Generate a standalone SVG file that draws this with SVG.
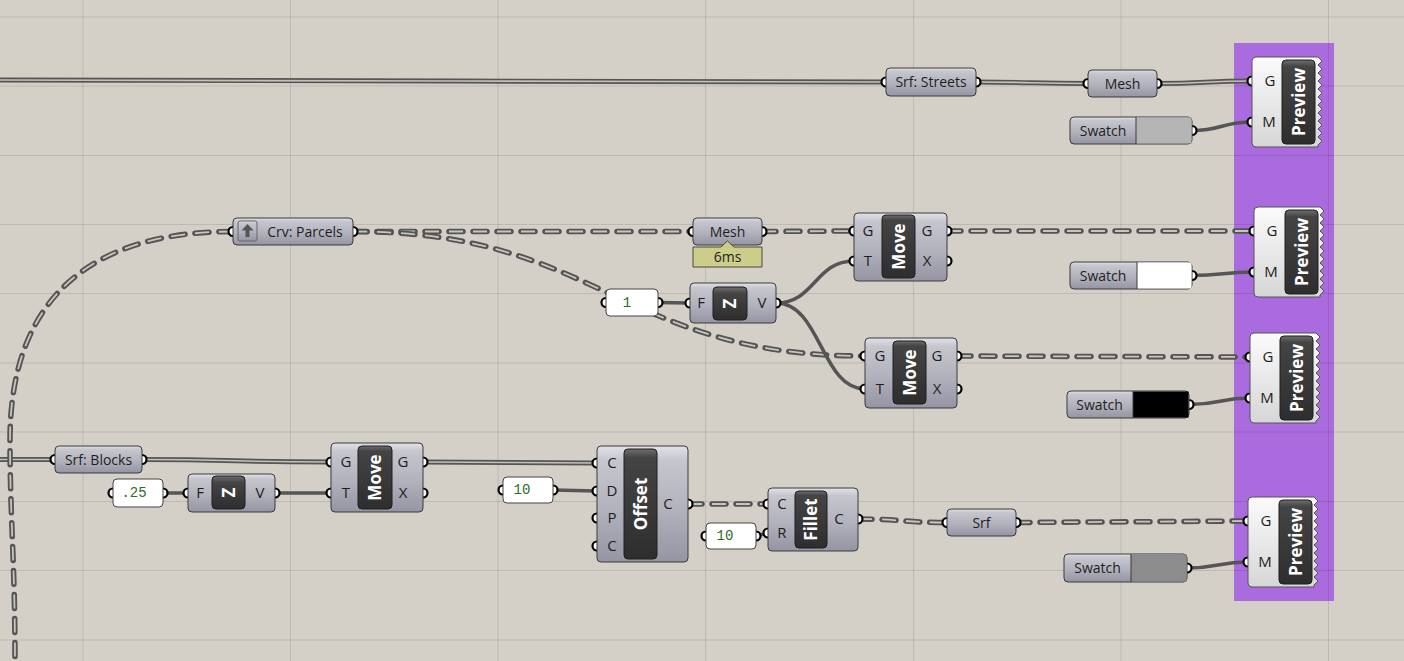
<svg xmlns="http://www.w3.org/2000/svg" width="1404" height="661" viewBox="0 0 1404 661">
<defs>
<linearGradient id="gBody" x1="0" y1="0" x2="0" y2="1">
<stop offset="0" stop-color="#e2e2e8"/><stop offset="0.12" stop-color="#c6c6ce"/><stop offset="0.55" stop-color="#b2b2bd"/><stop offset="1" stop-color="#9494a3"/>
</linearGradient>
<linearGradient id="gBlk" x1="0" y1="0" x2="0" y2="1">
<stop offset="0" stop-color="#6e6e6e"/><stop offset="0.08" stop-color="#444"/><stop offset="1" stop-color="#2e2e2e"/>
</linearGradient>
<linearGradient id="gBlkS" x1="0" y1="0" x2="0" y2="1">
<stop offset="0" stop-color="#6e6e6e"/><stop offset="0.2" stop-color="#444"/><stop offset="1" stop-color="#2e2e2e"/>
</linearGradient>
<linearGradient id="gPrev" x1="0" y1="0" x2="0" y2="1">
<stop offset="0" stop-color="#fbfbfb"/><stop offset="1" stop-color="#d6d6d6"/>
</linearGradient>
<path id="prevShape" d="M4,0 H66 L70,4 L66,8 L70,12 L66,16 L70,20 L66,24 L70,28 L66,32 L70,36 L66,40 L70,44 L66,48 L70,52 L66,56 L70,60 L66,64 L70,68 L66,72 L70,76 L66,80 L70,84 L66,88 L66,90 H4 A4,4 0 0 1 0,86 V4 A4,4 0 0 1 4,0 Z"/>
<style>
.body{fill:url(#gBody);stroke:#3a3a3a;stroke-width:1}
.blk{fill:url(#gBlk);stroke:#1e1e1e;stroke-width:1}
.blks{fill:url(#gBlkS);stroke:#1e1e1e;stroke-width:1}
.prev{fill:url(#gPrev);stroke:#555;stroke-width:1}
.port{fill:#fff;stroke:#000;stroke-width:2.2}
.pnl{fill:#fff;stroke:#444;stroke-width:1}
.lbl{font-family:"Open Sans","Noto Sans",sans-serif;font-size:14px;fill:#1e1e1e;text-anchor:middle}
.pl{font-family:"Open Sans","Noto Sans",sans-serif;font-size:15px;fill:#1e1e1e;text-anchor:middle}
.nick{font-family:"Open Sans","Noto Sans",sans-serif;font-size:17px;font-weight:bold;fill:#fff;text-anchor:middle}
.num{font-family:"Liberation Mono",monospace;font-size:14px;fill:#2d6b2d;text-anchor:middle}
.grid{stroke:#000;stroke-opacity:0.1;stroke-width:1}
.wt{fill:none;stroke:#555;stroke-width:5}
.wti{fill:none;stroke:#c4c1ba;stroke-width:1.6}
.wd{fill:none;stroke:#545454;stroke-width:5.5;stroke-linecap:round;stroke-dasharray:14 10}
.wdi{fill:none;stroke:#c8c5be;stroke-width:1.8;stroke-dasharray:14 10}
.ws{fill:none;stroke:#555;stroke-width:3.5}
</style>
</defs>
<rect x="0" y="0" width="1404" height="661" fill="#d4d0c8"/>
<rect x="1234" y="43" width="100" height="558" fill="#aa6bde"/>
<g id="grid">
<line class="grid" x1="83" y1="0" x2="83" y2="661"/>
<line class="grid" x1="290.5" y1="0" x2="290.5" y2="661"/>
<line class="grid" x1="498" y1="0" x2="498" y2="661"/>
<line class="grid" x1="705.5" y1="0" x2="705.5" y2="661"/>
<line class="grid" x1="913.5" y1="0" x2="913.5" y2="661"/>
<line class="grid" x1="1121" y1="0" x2="1121" y2="661"/>
<line class="grid" x1="1328.5" y1="0" x2="1328.5" y2="661"/>
<line class="grid" x1="0" y1="17" x2="1404" y2="17"/>
<line class="grid" x1="0" y1="86" x2="1404" y2="86"/>
<line class="grid" x1="0" y1="155.5" x2="1404" y2="155.5"/>
<line class="grid" x1="0" y1="224.5" x2="1404" y2="224.5"/>
<line class="grid" x1="0" y1="293.5" x2="1404" y2="293.5"/>
<line class="grid" x1="0" y1="363" x2="1404" y2="363"/>
<line class="grid" x1="0" y1="432" x2="1404" y2="432"/>
<line class="grid" x1="0" y1="501.5" x2="1404" y2="501.5"/>
<line class="grid" x1="0" y1="570.5" x2="1404" y2="570.5"/>
<line class="grid" x1="0" y1="640" x2="1404" y2="640"/>
</g>
<g id="connectors">
<path class="wt" d="M0,80 C400,80 500,82 886,82"/>
<path class="wti" d="M0,80 C400,80 500,82 886,82"/>
<path class="wt" d="M976,82 C1032,82 1032,83.5 1088,83.5"/>
<path class="wti" d="M976,82 C1032,82 1032,83.5 1088,83.5"/>
<path class="wt" d="M1157,83.5 C1205,83.5 1205,81 1252,81"/>
<path class="wti" d="M1157,83.5 C1205,83.5 1205,81 1252,81"/>
<path class="wt" d="M0,459.5 L55,459.5"/>
<path class="wti" d="M0,459.5 L55,459.5"/>
<path class="wt" d="M142,459.5 C236,459.5 236,462 331,462"/>
<path class="wti" d="M142,459.5 C236,459.5 236,462 331,462"/>
<path class="wt" d="M423,462 C510,462 510,463 597,463"/>
<path class="wti" d="M423,462 C510,462 510,463 597,463"/>
<path class="wd" d="M233,231.5 C100,231.5 10,290 10,440 C10,520 15,560 15,661"/>
<path class="wdi" d="M233,231.5 C100,231.5 10,290 10,440 C10,520 15,560 15,661"/>
<path class="wd" d="M353,231.5 L693,231.5"/>
<path class="wdi" d="M353,231.5 L693,231.5"/>
<path class="wd" d="M353,231.5 C600,231.5 620,356 865,356"/>
<path class="wdi" d="M353,231.5 C600,231.5 620,356 865,356"/>
<path class="wd" d="M762,231.5 L854,231"/>
<path class="wdi" d="M762,231.5 L854,231"/>
<path class="wd" d="M947,231 L1254,231"/>
<path class="wdi" d="M947,231 L1254,231"/>
<path class="wd" d="M957,356 L1250,357"/>
<path class="wdi" d="M957,356 L1250,357"/>
<path class="wd" d="M688,504 L768,504"/>
<path class="wdi" d="M688,504 L768,504"/>
<path class="wd" d="M858,519 C900,519 905,522.5 947,522.5"/>
<path class="wdi" d="M858,519 C900,519 905,522.5 947,522.5"/>
<path class="wd" d="M1016,522.5 L1248,521"/>
<path class="wdi" d="M1016,522.5 L1248,521"/>
<path class="ws" d="M1192,130.5 C1222,130.5 1222,122 1252,122"/>
<path class="ws" d="M658,302.5 L690,303"/>
<path class="ws" d="M776,303 C815,303 815,261 854,261"/>
<path class="ws" d="M776,303 C821,303 821,389 865,389"/>
<path class="ws" d="M1192,275.5 C1223,275.5 1223,272 1254,272"/>
<path class="ws" d="M1189,404.5 C1220,404.5 1220,398 1250,398"/>
<path class="ws" d="M163,493 L188,493"/>
<path class="ws" d="M275,493 L331,493"/>
<path class="ws" d="M553,490 L597,491"/>
<path class="ws" d="M756,536 L768,533"/>
<path class="ws" d="M1187,568 C1218,568 1218,562 1248,562"/>
</g>
<g id="srf-streets">
<circle class="port" cx="886" cy="82" r="4.5"/><circle class="port" cx="976" cy="82" r="4.5"/>
<rect class="body" x="886" y="68" width="90" height="28" rx="4"/>
<text class="lbl" x="931" y="87">Srf: Streets</text>
</g>
<g id="mesh-top">
<circle class="port" cx="1088" cy="83.5" r="4.5"/><circle class="port" cx="1157" cy="83.5" r="4.5"/>
<rect class="body" x="1088" y="70" width="69" height="27" rx="4"/>
<text class="lbl" x="1122.5" y="88.5">Mesh</text>
</g>
<g id="swatch-1">
<circle class="port" cx="1192" cy="130.5" r="4.5"/>
<rect class="body" x="1070" y="117" width="122" height="27" rx="4"/>
<rect x="1136" y="117.5" width="55.5" height="26" fill="#b4b4b4"/>
<line x1="1136" y1="117" x2="1136" y2="144" stroke="#3a3a3a"/>
<text class="lbl" x="1103" y="135.5">Swatch</text>
</g>
<g id="preview-1">
<circle class="port" cx="1252" cy="81" r="4.5"/><circle class="port" cx="1252" cy="122" r="4.5"/>
<use href="#prevShape" class="prev" x="1252" y="57"/>
<rect class="blk" x="1282" y="60" width="33" height="84" rx="4"/>
<text class="pl" x="1270" y="86">G</text><text class="pl" x="1269" y="127">M</text>
<text class="nick" transform="translate(1298.5,102) rotate(-90)" y="6">Preview</text>
</g>
<g id="crv-parcels">
<circle class="port" cx="233" cy="231.5" r="4.5"/><circle class="port" cx="353" cy="231.5" r="4.5"/>
<rect class="body" x="233" y="218" width="120" height="27" rx="4"/>
<rect x="238" y="221" width="19" height="20" rx="2" fill="url(#gBody)" stroke="#666"/>
<path d="M247.5,224 L241.5,230.5 H245.5 V237 H249.5 V230.5 H253.5 Z" fill="#555"/>
<text class="lbl" x="305" y="236.5">Crv: Parcels</text>
</g>
<g id="mesh-2">
<circle class="port" cx="693" cy="231.5" r="4.5"/><circle class="port" cx="762" cy="231.5" r="4.5"/>
<rect class="body" x="693" y="218" width="69" height="27" rx="4"/>
<text class="lbl" x="727.5" y="236.5">Mesh</text>
<path d="M693,247 H721 L727.5,241 L734,247 H762 V267 H693 Z" fill="#cdcd8a" stroke="#4a4a3a" stroke-width="1"/>
<text class="lbl" x="727.5" y="262">6ms</text>
</g>
<g id="move-1">
<circle class="port" cx="854" cy="231" r="4.5"/><circle class="port" cx="854" cy="261" r="4.5"/>
<circle class="port" cx="947" cy="231" r="4.5"/><circle class="port" cx="947" cy="261" r="4.5"/>
<rect class="body" x="854" y="213" width="93" height="68" rx="4"/>
<rect class="blk" x="882" y="215" width="33" height="63" rx="4"/>
<text class="pl" x="868" y="236">G</text><text class="pl" x="868" y="266">T</text>
<text class="pl" x="927" y="236">G</text><text class="pl" x="927" y="266">X</text>
<text class="nick" transform="translate(898.5,246.5) rotate(-90)" y="6">Move</text>
</g>
<g id="panel-1">
<circle class="port" cx="606" cy="302.5" r="4.5"/><circle class="port" cx="658" cy="302.5" r="4.5"/>
<rect class="pnl" x="606" y="289" width="52" height="27" rx="4"/>
<text class="num" x="627" y="307">1</text>
</g>
<g id="unit-z-1">
<circle class="port" cx="690" cy="303" r="4.5"/><circle class="port" cx="776" cy="303" r="4.5"/>
<rect class="body" x="690" y="283" width="86" height="40" rx="4"/>
<rect class="blks" x="713" y="287" width="34" height="33" rx="4"/>
<text class="pl" x="701" y="308">F</text><text class="pl" x="762" y="308">V</text>
<text class="nick" transform="translate(730,303.5) rotate(-90)" y="6">Z</text>
</g>
<g id="move-2">
<circle class="port" cx="865" cy="356" r="4.5"/><circle class="port" cx="865" cy="389" r="4.5"/>
<circle class="port" cx="957" cy="356" r="4.5"/><circle class="port" cx="957" cy="389" r="4.5"/>
<rect class="body" x="865" y="338" width="92" height="70" rx="4"/>
<rect class="blk" x="893" y="341" width="33" height="63" rx="4"/>
<text class="pl" x="880" y="361">G</text><text class="pl" x="880" y="394">T</text>
<text class="pl" x="937" y="361">G</text><text class="pl" x="937" y="394">X</text>
<text class="nick" transform="translate(909.5,372.5) rotate(-90)" y="6">Move</text>
</g>
<g id="preview-2">
<circle class="port" cx="1254" cy="231" r="4.5"/><circle class="port" cx="1254" cy="272" r="4.5"/>
<use href="#prevShape" class="prev" x="1254" y="207"/>
<rect class="blk" x="1285" y="210" width="33" height="84" rx="4"/>
<text class="pl" x="1272" y="236">G</text><text class="pl" x="1271" y="277">M</text>
<text class="nick" transform="translate(1301.5,252) rotate(-90)" y="6">Preview</text>
</g>
<g id="swatch-2">
<circle class="port" cx="1192" cy="275.5" r="4.5"/>
<rect class="body" x="1070" y="262" width="122" height="27" rx="4"/>
<rect x="1137" y="262.5" width="54.5" height="26" fill="#ffffff"/>
<line x1="1137" y1="262" x2="1137" y2="289" stroke="#3a3a3a"/>
<text class="lbl" x="1103" y="280.5">Swatch</text>
</g>
<g id="preview-3">
<circle class="port" cx="1250" cy="357" r="4.5"/><circle class="port" cx="1250" cy="398" r="4.5"/>
<use href="#prevShape" class="prev" x="1250" y="333"/>
<rect class="blk" x="1280" y="336" width="33" height="84" rx="4"/>
<text class="pl" x="1268" y="362">G</text><text class="pl" x="1267" y="403">M</text>
<text class="nick" transform="translate(1296.5,378) rotate(-90)" y="6">Preview</text>
</g>
<g id="swatch-3">
<circle class="port" cx="1189" cy="404.5" r="4.5"/>
<rect class="body" x="1067" y="391" width="122" height="27" rx="4"/>
<rect x="1133" y="391.5" width="55.5" height="26" fill="#000000"/>
<line x1="1133" y1="391" x2="1133" y2="418" stroke="#3a3a3a"/>
<text class="lbl" x="1099.5" y="409.5">Swatch</text>
</g>
<g id="srf-blocks">
<circle class="port" cx="55" cy="459.5" r="4.5"/><circle class="port" cx="142" cy="459.5" r="4.5"/>
<rect class="body" x="55" y="446" width="87" height="27" rx="4"/>
<text class="lbl" x="98.5" y="464.5">Srf: Blocks</text>
</g>
<g id="panel-025">
<circle class="port" cx="113" cy="493" r="4.5"/><circle class="port" cx="163" cy="493" r="4.5"/>
<rect class="pnl" x="113" y="479" width="50" height="28" rx="4"/>
<text class="num" x="134" y="497">.25</text>
</g>
<g id="unit-z-2">
<circle class="port" cx="188" cy="493" r="4.5"/><circle class="port" cx="275" cy="493" r="4.5"/>
<rect class="body" x="188" y="474" width="87" height="38" rx="4"/>
<rect class="blks" x="212" y="476" width="33" height="33" rx="4"/>
<text class="pl" x="200" y="498">F</text><text class="pl" x="260" y="498">V</text>
<text class="nick" transform="translate(228.5,492.5) rotate(-90)" y="6">Z</text>
</g>
<g id="move-3">
<circle class="port" cx="331" cy="462" r="4.5"/><circle class="port" cx="331" cy="493" r="4.5"/>
<circle class="port" cx="423" cy="462" r="4.5"/><circle class="port" cx="423" cy="493" r="4.5"/>
<rect class="body" x="331" y="443" width="92" height="69" rx="4"/>
<rect class="blk" x="358" y="446" width="34" height="63" rx="4"/>
<text class="pl" x="346" y="467">G</text><text class="pl" x="346" y="498">T</text>
<text class="pl" x="403" y="467">G</text><text class="pl" x="403" y="498">X</text>
<text class="nick" transform="translate(375,477.5) rotate(-90)" y="6">Move</text>
</g>
<g id="panel-10a">
<circle class="port" cx="503" cy="490" r="4.5"/><circle class="port" cx="553" cy="490" r="4.5"/>
<rect class="pnl" x="503" y="477" width="50" height="26" rx="4"/>
<text class="num" x="522" y="494">10</text>
</g>
<g id="offset">
<circle class="port" cx="597" cy="463" r="4.5"/><circle class="port" cx="597" cy="491" r="4.5"/>
<circle class="port" cx="597" cy="518" r="4.5"/><circle class="port" cx="597" cy="546" r="4.5"/>
<circle class="port" cx="688" cy="504" r="4.5"/>
<rect class="body" x="597" y="446" width="91" height="116" rx="4"/>
<rect class="blk" x="624" y="449" width="33" height="110" rx="4"/>
<text class="pl" x="612" y="468">C</text><text class="pl" x="612" y="496">D</text>
<text class="pl" x="612" y="523">P</text><text class="pl" x="612" y="551">C</text>
<text class="pl" x="668" y="509">C</text>
<text class="nick" transform="translate(640.5,504) rotate(-90)" y="6">Offset</text>
</g>
<g id="panel-10b">
<circle class="port" cx="706" cy="536" r="4.5"/><circle class="port" cx="756" cy="536" r="4.5"/>
<rect class="pnl" x="706" y="523" width="50" height="26" rx="4"/>
<text class="num" x="725" y="540">10</text>
</g>
<g id="fillet">
<circle class="port" cx="768" cy="504" r="4.5"/><circle class="port" cx="768" cy="533" r="4.5"/>
<circle class="port" cx="858" cy="519" r="4.5"/>
<rect class="body" x="768" y="488" width="90" height="63" rx="4"/>
<rect class="blk" x="795" y="491" width="32" height="57" rx="4"/>
<text class="pl" x="782" y="509">C</text><text class="pl" x="782" y="538">R</text>
<text class="pl" x="839" y="524">C</text>
<text class="nick" transform="translate(811,519.5) rotate(-90)" y="6">Fillet</text>
</g>
<g id="srf">
<circle class="port" cx="947" cy="522.5" r="4.5"/><circle class="port" cx="1016" cy="522.5" r="4.5"/>
<rect class="body" x="947" y="509" width="69" height="27" rx="4"/>
<text class="lbl" x="981.5" y="527.5">Srf</text>
</g>
<g id="swatch-4">
<circle class="port" cx="1187" cy="568" r="4.5"/>
<rect class="body" x="1064" y="554" width="123" height="28" rx="4"/>
<rect x="1131" y="554.5" width="55.5" height="27" fill="#8c8c8c"/>
<line x1="1131" y1="554" x2="1131" y2="582" stroke="#3a3a3a"/>
<text class="lbl" x="1097.5" y="573">Swatch</text>
</g>
<g id="preview-4">
<circle class="port" cx="1248" cy="521" r="4.5"/><circle class="port" cx="1248" cy="562" r="4.5"/>
<use href="#prevShape" class="prev" x="1248" y="497"/>
<rect class="blk" x="1279" y="500" width="33" height="84" rx="4"/>
<text class="pl" x="1266" y="526">G</text><text class="pl" x="1265" y="567">M</text>
<text class="nick" transform="translate(1295.5,542) rotate(-90)" y="6">Preview</text>
</g>
</svg>
